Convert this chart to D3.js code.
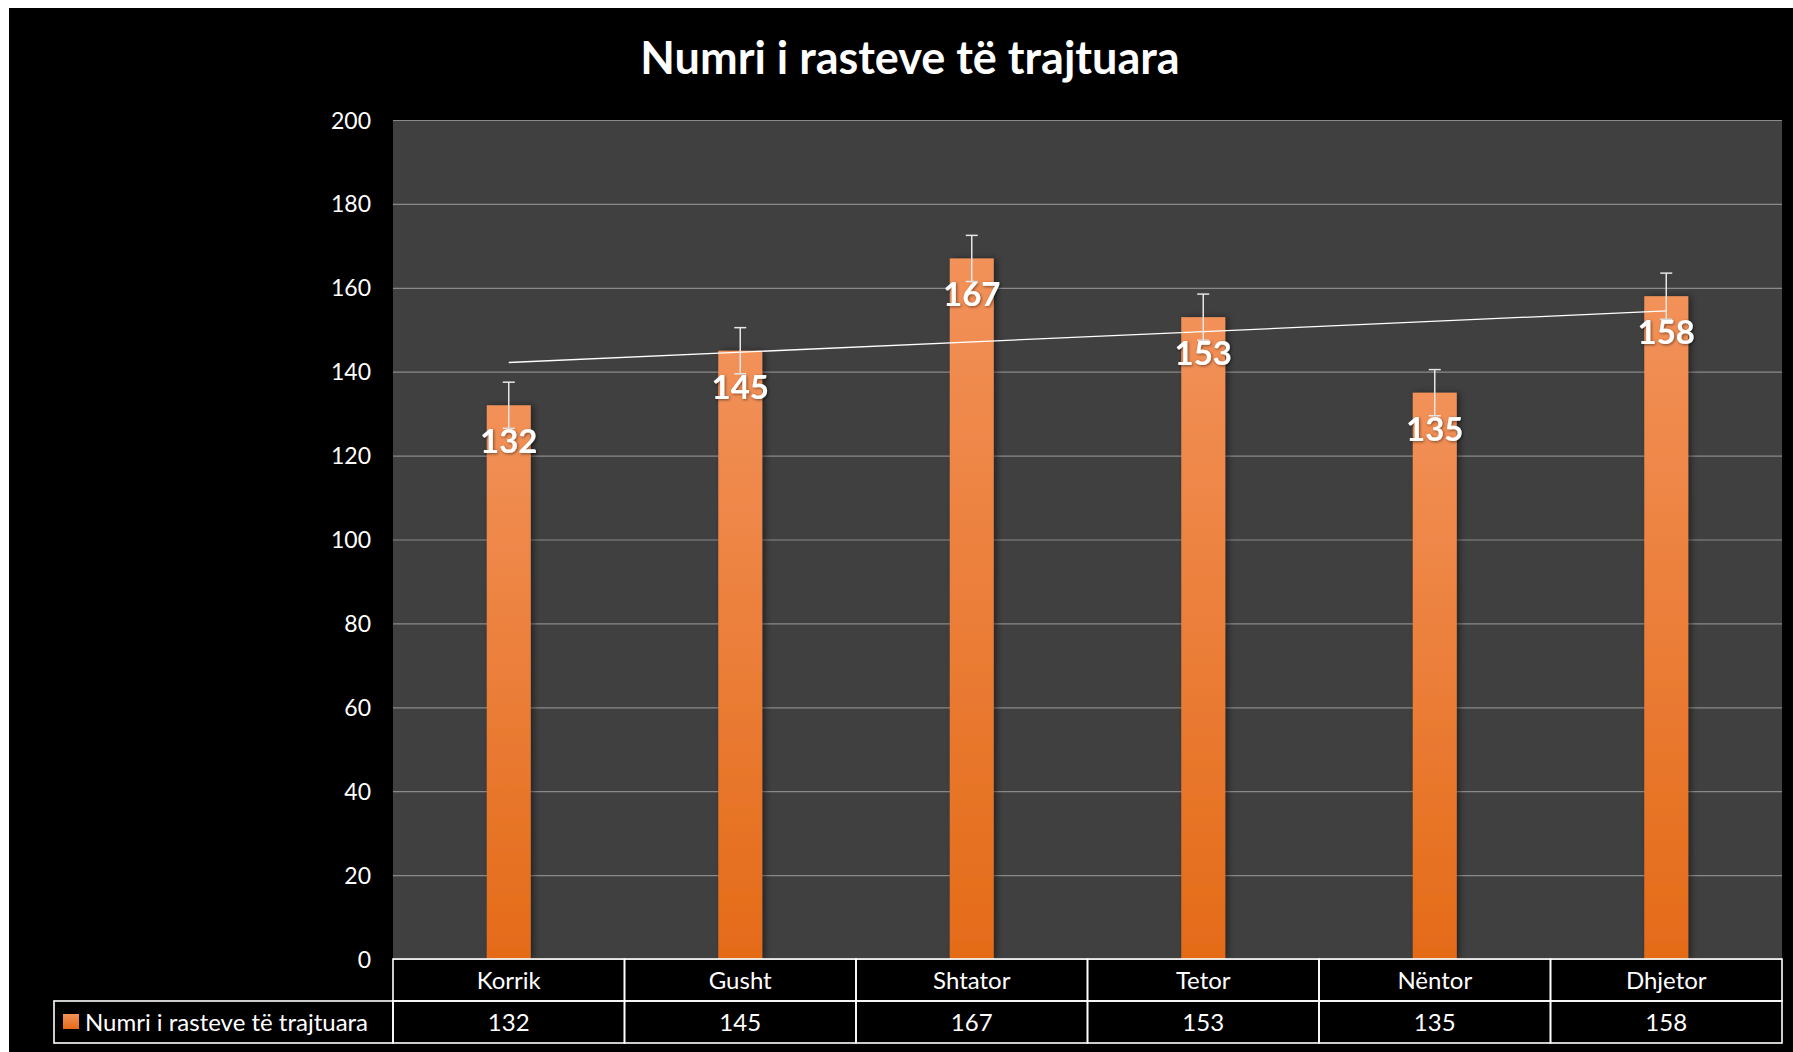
<!DOCTYPE html>
<html>
<head>
<meta charset="utf-8">
<script src="https://cdn.jsdelivr.net/npm/d3@7"></script>
<style>
  html, body { margin: 0; padding: 0; background: #fff; }
  svg { display: block; font-family: Lato, "Open Sans", sans-serif; }
  .yaxis text { fill: #fff; font-size: 23px; font-family: Lato, "Open Sans", sans-serif; }
  .grid line { stroke: #8a8a8a; stroke-width: 1.2; }
  .cell { fill: none; stroke: #fff; stroke-width: 1.6; }
  .tbl { fill: #fff; font-size: 24px; }
</style>
</head>
<body>
<div id="chart"></div>
<script>
var width = 1793, height = 1052;

// data
var months = ["Korrik", "Gusht", "Shtator", "Tetor", "Nëntor", "Dhjetor"];
var cases = [132, 145, 167, 153, 135, 158];
var yTicks = [0, 20, 40, 60, 80, 100, 120, 140, 160, 180, 200];
var seriesName = "Numri i rasteve të trajtuara";
var errorAmount = 5.5; // standard error bars

var plot = { left: 393, right: 1782, top: 120, bottom: 959 };
var rowH = 42;

var svg = d3.select("#chart").append("svg")
  .attr("width", width)
  .attr("height", height);

var defs = svg.append("defs");
var grad = defs.append("linearGradient")
  .attr("id", "barGrad")
  .attr("x1", 0).attr("y1", 0).attr("x2", 0).attr("y2", 1);
grad.append("stop").attr("offset", "0%").attr("stop-color", "#f29159");
grad.append("stop").attr("offset", "100%").attr("stop-color", "#e46b18");

defs.append("filter").attr("id", "shadow")
  .attr("x", "-30%").attr("y", "-10%").attr("width", "160%").attr("height", "120%")
  .append("feDropShadow")
    .attr("dx", 3).attr("dy", 0).attr("stdDeviation", 3)
    .attr("flood-color", "#000").attr("flood-opacity", 0.45);

defs.append("filter").attr("id", "txtShadow")
  .append("feDropShadow")
    .attr("dx", 1).attr("dy", 1).attr("stdDeviation", 1.5)
    .attr("flood-color", "#000").attr("flood-opacity", 0.5);

// background: white edge on top/left, black chart area
svg.append("rect").attr("width", width).attr("height", height).attr("fill", "#fff");
svg.append("rect").attr("x", 9).attr("y", 8)
  .attr("width", width - 9).attr("height", height - 8).attr("fill", "#000");

var x = d3.scaleBand()
  .domain(months)
  .range([plot.left, plot.right]);

var y = d3.scaleLinear()
  .domain([0, 200])
  .range([plot.bottom, plot.top]);

// plot area
svg.append("rect")
  .attr("x", plot.left).attr("y", plot.top)
  .attr("width", plot.right - plot.left)
  .attr("height", plot.bottom - plot.top)
  .attr("fill", "#404040");

svg.append("g")
  .attr("class", "grid")
  .attr("transform", "translate(" + plot.left + ",0)")
  .call(d3.axisLeft(y).tickValues(yTicks).tickSize(-(plot.right - plot.left)).tickFormat(""))
  .call(function(g) { g.select(".domain").remove(); });

svg.append("g")
  .attr("class", "yaxis")
  .attr("transform", "translate(" + (plot.left - 22) + ",0)")
  .call(d3.axisLeft(y).tickValues(yTicks).tickSize(0).tickPadding(0))
  .call(function(g) { g.select(".domain").remove(); })
  .selectAll("text").attr("dy", "0.35em");

// title
svg.append("text")
  .attr("x", 910)
  .attr("y", 74)
  .attr("text-anchor", "middle")
  .attr("fill", "#fff")
  .style("font-size", "45px")
  .style("font-weight", "bold")
  .text(seriesName);

// bars
var barW = x.bandwidth() * 0.19;

svg.selectAll(".bar")
  .data(cases)
  .enter().append("rect")
    .attr("class", "bar")
    .attr("x", function(d, i) { return x(months[i]) + (x.bandwidth() - barW) / 2; })
    .attr("y", function(d) { return y(d); })
    .attr("width", barW)
    .attr("height", function(d) { return y(0) - y(d); })
    .attr("fill", "url(#barGrad)")
    .attr("filter", "url(#shadow)");

// trendline (linear fit)
var n = cases.length;
var mx = d3.mean(cases, function(d, i) { return i; });
var my = d3.mean(cases);
var sxy = d3.sum(cases, function(d, i) { return (i - mx) * (d - my); });
var sxx = d3.sum(cases, function(d, i) { return (i - mx) * (i - mx); });
var slope = sxy / sxx, icpt = my - slope * mx;

svg.append("line")
  .attr("x1", x(months[0]) + x.bandwidth() / 2)
  .attr("x2", x(months[n - 1]) + x.bandwidth() / 2)
  .attr("y1", y(icpt))
  .attr("y2", y(icpt + slope * (n - 1)))
  .attr("stroke", "#fff")
  .attr("stroke-width", 1.3);

// error bars
var err = svg.selectAll(".err")
  .data(cases)
  .enter().append("g")
    .attr("class", "err")
    .attr("transform", function(d, i) { return "translate(" + (x(months[i]) + x.bandwidth() / 2) + ",0)"; })
    .attr("stroke", "#e6e6e6")
    .attr("stroke-width", 1.5);

err.append("line")
  .attr("y1", function(d) { return y(d + errorAmount); })
  .attr("y2", function(d) { return y(d - errorAmount); });
err.append("line")
  .attr("x1", -6).attr("x2", 6)
  .attr("y1", function(d) { return y(d + errorAmount); })
  .attr("y2", function(d) { return y(d + errorAmount); });
err.append("line")
  .attr("x1", -6).attr("x2", 6)
  .attr("y1", function(d) { return y(d - errorAmount); })
  .attr("y2", function(d) { return y(d - errorAmount); });

// data labels
svg.selectAll(".lbl")
  .data(cases)
  .enter().append("text")
    .attr("class", "lbl")
    .attr("x", function(d, i) { return x(months[i]) + x.bandwidth() / 2; })
    .attr("y", function(d) { return y(d) + 48; })
    .attr("text-anchor", "middle")
    .attr("fill", "#fff")
    .attr("filter", "url(#txtShadow)")
    .style("font-size", "33px")
    .style("font-weight", "bold")
    .text(function(d) { return d; });

// data table
var table = svg.append("g");

table.selectAll(".c1")
  .data(months)
  .enter().append("rect")
    .attr("class", "cell")
    .attr("x", function(d) { return x(d); })
    .attr("y", plot.bottom)
    .attr("width", x.bandwidth())
    .attr("height", rowH);

table.selectAll(".c2")
  .data(months)
  .enter().append("rect")
    .attr("class", "cell")
    .attr("x", function(d) { return x(d); })
    .attr("y", plot.bottom + rowH)
    .attr("width", x.bandwidth())
    .attr("height", rowH);

table.append("rect")
  .attr("class", "cell")
  .attr("x", 54)
  .attr("y", plot.bottom + rowH)
  .attr("width", plot.left - 54)
  .attr("height", rowH);

table.selectAll(".mlbl")
  .data(months)
  .enter().append("text")
    .attr("class", "tbl")
    .attr("x", function(d) { return x(d) + x.bandwidth() / 2; })
    .attr("y", plot.bottom + rowH / 2)
    .attr("dy", "0.36em")
    .attr("text-anchor", "middle")
    .text(function(d) { return d; });

table.selectAll(".vlbl")
  .data(cases)
  .enter().append("text")
    .attr("class", "tbl")
    .attr("x", function(d, i) { return x(months[i]) + x.bandwidth() / 2; })
    .attr("y", plot.bottom + rowH * 1.5)
    .attr("dy", "0.36em")
    .attr("text-anchor", "middle")
    .text(function(d) { return d; });

table.append("rect")
  .attr("x", 63).attr("y", plot.bottom + rowH * 1.5 - 8)
  .attr("width", 16).attr("height", 15)
  .attr("fill", "url(#barGrad)");

table.append("text")
  .attr("class", "tbl")
  .attr("x", 85)
  .attr("y", plot.bottom + rowH * 1.5)
  .attr("dy", "0.36em")
  .text(seriesName);
</script>
</body>
</html>
